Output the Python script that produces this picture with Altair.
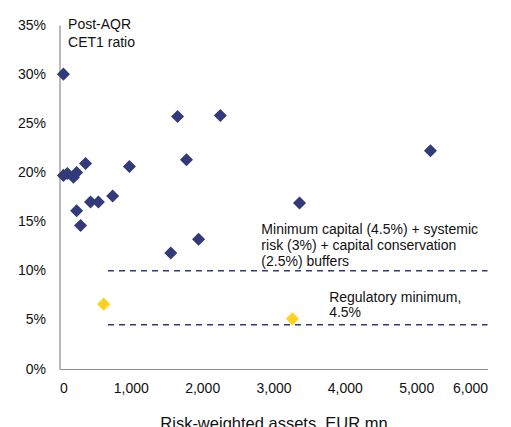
import altair as alt
import pandas as pd

# Banks: risk-weighted assets (EUR mn) vs post-AQR CET1 ratio (%)
rwa_ok = [55, 1655, 2255, 365, 980, 1780, 55, 110, 195, 240, 745, 435, 545,
          240, 295, 1950, 1560, 3365, 5200]
cet1_ok = [30.0, 25.7, 25.8, 20.9, 20.6, 21.3, 19.7, 19.9, 19.5, 20.0, 17.6,
           17.0, 17.0, 16.1, 14.6, 13.2, 11.8, 16.9, 22.2]
rwa_low = [620, 3265]
cet1_low = [6.6, 5.1]

threshold_levels = [10.0, 4.5]
threshold_start = 680
threshold_end = 6000

x_ticks = [0, 1000, 2000, 3000, 4000, 5000, 6000]
y_ticks = [0, 5, 10, 15, 20, 25, 30, 35]

notes = [
    "Minimum capital (4.5%) + systemic",
    "risk (3%) + capital conservation",
    "(2.5%) buffers",
    "Regulatory minimum,",
    "4.5%",
    "Post-AQR",
    "CET1 ratio",
]
note_x = [2830, 2830, 2830, 3780, 3780, 120, 120]
note_y = [14.15, 12.5, 10.9, 7.25, 5.7, 35.0, 33.15]

NAVY = "#323a79"
GOLD = "#ffd21f"
FONT = "Liberation Sans"

points = pd.DataFrame(
    {
        "rwa": rwa_ok + rwa_low,
        "cet1": cet1_ok + cet1_low,
        "group": ["ok"] * len(rwa_ok) + ["low"] * len(rwa_low),
    }
)
rules = pd.DataFrame(
    {
        "cet1": threshold_levels,
        "rwa": [threshold_start] * len(threshold_levels),
        "rwa_end": [threshold_end] * len(threshold_levels),
    }
)
labels = pd.DataFrame({"text": notes, "rwa": note_x, "cet1": note_y})

x_enc = alt.X(
    "rwa:Q",
    scale=alt.Scale(domain=[0, 6000], nice=False),
    title="Risk-weighted assets, EUR mn",
    axis=alt.Axis(values=x_ticks, format=",.0f", labelPadding=12, titlePadding=20,
                  titleFontSize=16.5),
)
y_enc = alt.Y(
    "cet1:Q",
    scale=alt.Scale(domain=[0, 35], nice=False),
    title=None,
    axis=alt.Axis(values=y_ticks, labelExpr="datum.value + '%'", labelPadding=14),
)

thresholds = (
    alt.Chart(rules)
    .mark_rule(color=NAVY, strokeWidth=1.4, strokeDash=[6, 5])
    .encode(x=x_enc, x2="rwa_end:Q", y=y_enc)
)

scatter = (
    alt.Chart(points)
    .mark_point(shape="diamond", filled=True, size=170, opacity=1)
    .encode(
        x=x_enc,
        y=y_enc,
        color=alt.Color(
            "group:N",
            scale=alt.Scale(domain=["ok", "low"], range=[NAVY, GOLD]),
            legend=None,
        ),
    )
)

annotations = (
    alt.Chart(labels)
    .mark_text(align="left", baseline="middle", font=FONT, fontSize=14, color="#111111")
    .encode(x=x_enc, y=y_enc, text="text:N")
)

chart = (
    alt.layer(thresholds, scatter, annotations)
    .properties(
        width=428,
        height=344,
        autosize=alt.AutoSizeParams(type="none"),
        padding={"left": 51.5, "top": 17, "right": 15, "bottom": 60},
    )
    .configure_view(stroke=None)
    .configure_axis(
        grid=False,
        ticks=False,
        domainColor="#8c8c8c",
        domainWidth=1.2,
        labelFont=FONT,
        labelFontSize=14,
        labelColor="#111111",
        titleFont=FONT,
        titleFontWeight="normal",
        titleColor="#111111",
    )
)

chart.save("out.html", embed_options={"renderer": "svg", "actions": False})
